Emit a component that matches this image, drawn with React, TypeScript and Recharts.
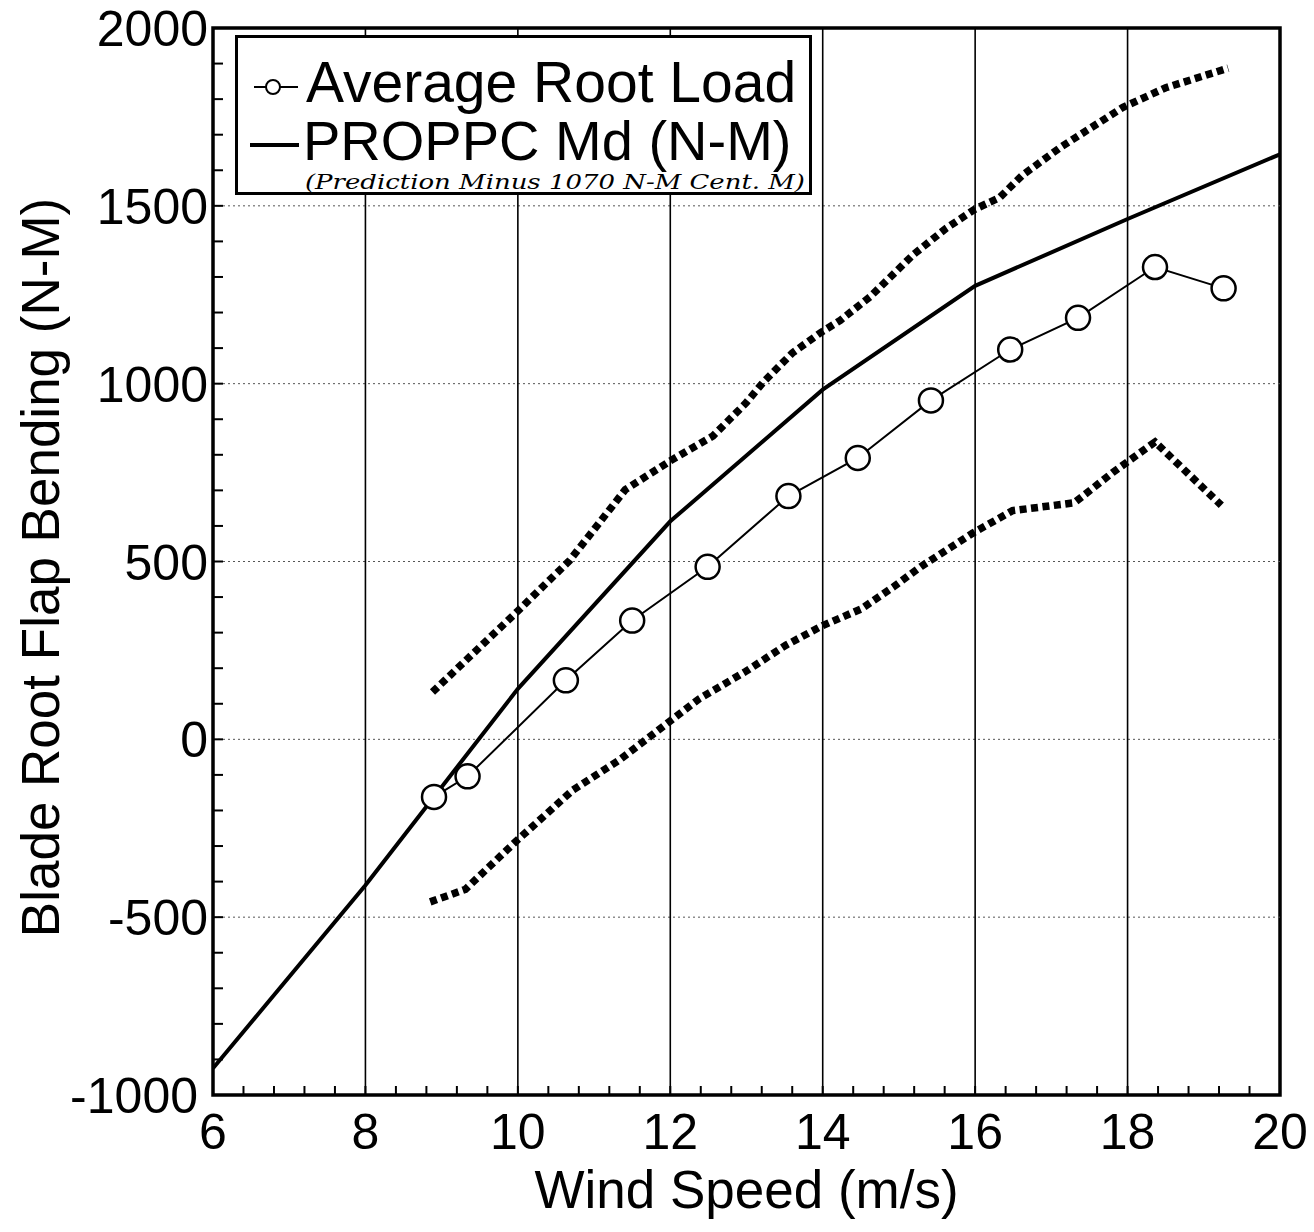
import React from 'react';
import {
  LineChart, Line, XAxis, YAxis, ReferenceLine, ReferenceArea, Legend, Label,
} from 'recharts';

// ---- data ----
const avgX = [8.9, 9.34, 10.63, 11.5, 12.49, 13.55, 14.46, 15.42, 16.46, 17.35, 18.36, 19.26];
const avgY = [-162, -104, 166, 334, 485, 684, 791, 953, 1096, 1185, 1328, 1268];

const predX = [6, 8, 10, 12, 14, 16, 18, 20];
const predY = [-925, -410, 142, 613, 983, 1275, 1463, 1645];

const upperX = [8.88, 10.0, 10.68, 11.41, 12.0, 12.56, 12.99, 13.22, 13.6, 13.97, 14.23, 14.62, 15.19, 15.62, 16.0, 16.32, 16.62, 17.13, 17.94, 18.5, 19.32];
const upperY = [133, 361, 503, 702, 783, 853, 945, 1004, 1086, 1143, 1178, 1244, 1363, 1437, 1491, 1523, 1586, 1666, 1777, 1832, 1887];

const lowerX = [8.85, 9.31, 9.98, 10.72, 11.34, 11.96, 12.38, 12.99, 13.52, 14.0, 14.5, 14.93, 15.29, 15.97, 16.49, 17.3, 17.81, 18.36, 19.23];
const lowerY = [-457, -422, -286, -143, -57, 45, 114, 191, 265, 320, 366, 429, 486, 580, 643, 665, 751, 836, 658];

const xMajorTicks = [6, 8, 10, 12, 14, 16, 18, 20];
const yMajorTicks = [-1000, -500, 0, 500, 1000, 1500, 2000];
const xGrid = [8, 10, 12, 14, 16, 18];
const yGrid = [-500, 0, 500, 1000, 1500];

const xMinorStep = 0.4;
const yMinorStep = 100;
const xTicks = Array.from({ length: Math.round((20 - 6) / xMinorStep) + 1 }, (_, i) => +(6 + i * xMinorStep).toFixed(2));
const yTicks = Array.from({ length: Math.round(3000 / yMinorStep) + 1 }, (_, i) => -1000 + i * yMinorStep);

const zip = (xs: number[], ys: number[]) => xs.map((x, i) => ({ x, y: ys[i] }));
const avgData = zip(avgX, avgY);
const predData = zip(predX, predY);
const upperData = zip(upperX, upperY);
const lowerData = zip(lowerX, lowerY);

const FONT = '"Liberation Sans", Arial, Helvetica, sans-serif';

const XTick = (props: any) => {
  const { x, y, payload } = props;
  const v = payload.value;
  const isMajor = xMajorTicks.some((m) => Math.abs(m - v) < 1e-6);
  return (
    <g>
      <line x1={x} y1={y} x2={x} y2={y - 9} stroke="#000" strokeWidth={2} />
      {isMajor && (
        <text x={x} y={y + 54} textAnchor="middle" fontSize={50} fontFamily={FONT} fill="#000">
          {v}
        </text>
      )}
    </g>
  );
};

const YTick = (props: any) => {
  const { x, y, payload } = props;
  const v = payload.value;
  const isMajor = yMajorTicks.includes(v);
  const gap = v === -1000 ? 15 : 5;
  return (
    <g>
      <line x1={x} y1={y} x2={x + 10} y2={y} stroke="#000" strokeWidth={2} />
      {isMajor && (
        <text x={x - gap} y={y} dy="0.36em" textAnchor="end" fontSize={50} fontFamily={FONT} fill="#000">
          {v}
        </text>
      )}
    </g>
  );
};

const LegendBox = () => (
  <svg width={577} height={160} style={{ display: 'block' }}>
    <rect x={1.5} y={1.5} width={574} height={157} fill="#fff" stroke="#000" strokeWidth={3} />
    <line x1={19} y1={52} x2={63} y2={52} stroke="#000" strokeWidth={2} />
    <circle cx={38} cy={52} r={7} fill="#fff" stroke="#000" strokeWidth={2} />
    <text x={71} y={67} fontSize={57} fontFamily={FONT} fill="#000">Average Root Load</text>
    <line x1={15} y1={110} x2={64} y2={110} stroke="#000" strokeWidth={4} />
    <text x={68} y={125} fontSize={56} fontFamily={FONT} fill="#000">PROPPC Md (N-M)</text>
    <text x={70} y={154} fontSize={20} fontStyle="italic" fontFamily='"DejaVu Serif", serif' fill="#000" textLength={500} lengthAdjust="spacingAndGlyphs">
      (Prediction Minus 1070 N-M Cent. M)
    </text>
  </svg>
);

const YTitle = (props: any) => {
  const vb = props.viewBox || { x: 0, y: 28, width: 213, height: 1067 };
  const cx = 40;
  const cy = vb.y + vb.height / 2 + 6;
  return (
    <text x={cx} y={cy} transform={`rotate(-90 ${cx} ${cy})`} textAnchor="middle" dy="0.36em" fontSize={53} fontFamily={FONT} fill="#000">
      Blade Root Flap Bending (N-M)
    </text>
  );
};

const XTitle = (props: any) => {
  const vb = props.viewBox || { x: 213, y: 1095, width: 1067, height: 137 };
  return (
    <text x={vb.x + vb.width / 2} y={1208} textAnchor="middle" fontSize={53} fontFamily={FONT} fill="#000">
      Wind Speed (m/s)
    </text>
  );
};

export default function App() {
  return (
    <div style={{ width: 1314, height: 1232, background: '#fff', position: 'relative', margin: '-8px 0 0 -8px' }}>
      <LineChart
        width={1314}
        height={1232}
        margin={{ top: 28, right: 34, left: 0, bottom: 0 }}
        style={{ fontFamily: FONT }}
      >
        <XAxis
          dataKey="x"
          type="number"
          domain={[6, 20]}
          ticks={xTicks}
          interval={0}
          tick={<XTick />}
          tickSize={0}
          tickMargin={0}
          tickLine={false}
          axisLine={false}
          height={137}
          allowDataOverflow
        >
          <Label content={<XTitle />} />
        </XAxis>
        <YAxis
          dataKey="y"
          type="number"
          domain={[-1000, 2000]}
          ticks={yTicks}
          interval={0}
          tick={<YTick />}
          tickSize={0}
          tickMargin={0}
          tickLine={false}
          axisLine={false}
          width={213}
          allowDataOverflow
        >
          <Label content={<YTitle />} />
        </YAxis>

        {yGrid.map((v) => (
          <ReferenceLine key={'h' + v} y={v} stroke="#555" strokeWidth={1} strokeDasharray="2 3" />
        ))}
        {xGrid.map((v) => (
          <ReferenceLine key={'v' + v} x={v} stroke="#000" strokeWidth={1.6} />
        ))}
        <ReferenceArea x1={6} x2={20} y1={-1000} y2={2000} fill="none" fillOpacity={0} stroke="#000" strokeWidth={3.5} />

        <Line data={upperData} dataKey="y" stroke="#000" strokeWidth={7.5} strokeDasharray="7 4.5" dot={false} isAnimationActive={false} type="linear" />
        <Line data={lowerData} dataKey="y" stroke="#000" strokeWidth={7.5} strokeDasharray="7 4.5" dot={false} isAnimationActive={false} type="linear" />
        <Line data={predData} dataKey="y" stroke="#000" strokeWidth={4} dot={false} isAnimationActive={false} type="linear" />
        <Line
          data={avgData}
          dataKey="y"
          stroke="#000"
          strokeWidth={2}
          dot={{ r: 12, fill: '#fff', stroke: '#000', strokeWidth: 2.5 }}
          isAnimationActive={false}
          type="linear"
        />

        <Legend
          layout="horizontal"
          verticalAlign="middle"
          content={() => <LegendBox />}
          wrapperStyle={{ position: 'absolute', left: 235, top: 35, width: 577, height: 160 }}
        />
      </LineChart>
    </div>
  );
}
